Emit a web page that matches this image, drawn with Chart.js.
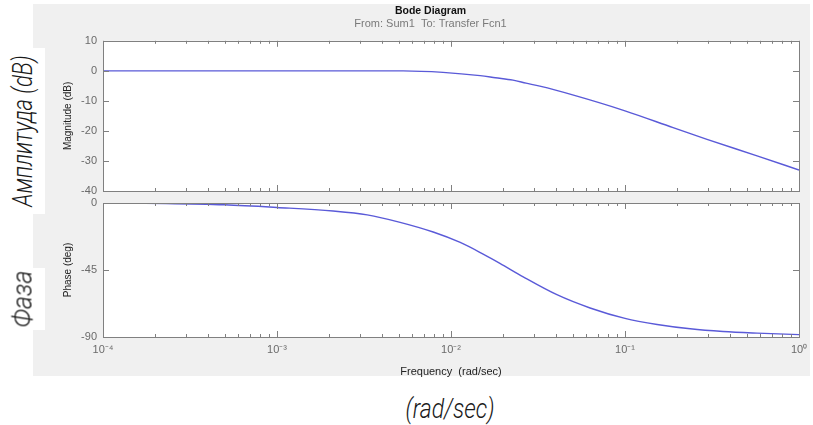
<!DOCTYPE html>
<html>
<head>
<meta charset="utf-8">
<script src="https://cdn.jsdelivr.net/npm/chart.js@4/dist/chart.umd.min.js"></script>
<style>
  body { margin: 0; width: 813px; height: 425px; overflow: hidden; position: relative; background: #fff; }
  #panel { position: absolute; left: 33px; top: 4px; width: 777px; height: 372px; background: #f0f0f0; }
  .wrap { position: absolute; }
  .patch { position: absolute; background: #fff; }
  .hand {
    position: absolute; white-space: nowrap; color: #1a1a1a;
    font-family: 'Roboto', sans-serif; font-weight: 300; font-style: italic;
  }
</style>
</head>
<body>
<div id="panel"></div>
<div class="wrap" style="left:33px; top:4px; width:777px; height:196px;"><canvas id="magChart" width="777" height="196"></canvas></div>
<div class="wrap" style="left:33px; top:195px; width:777px; height:185px;"><canvas id="phaseChart" width="777" height="185"></canvas></div>

<div class="patch" style="left:0; top:48px; width:45px; height:166px;"></div>
<div class="patch" style="left:0; top:268px; width:45px; height:62px;"></div>
<div class="hand" style="left:22px; top:131px; font-size:28px; transform: translate(-50%,-50%) rotate(-90deg) scaleX(0.78);">Амплитуда (dB)</div>
<div class="hand" style="left:22px; top:299px; font-size:28px; transform: translate(-50%,-50%) rotate(-90deg) scaleX(0.9);">Фаза</div>
<div class="hand" style="left:450px; top:408px; font-size:28px; transform: translate(-50%,-50%) scaleX(0.82);">(rad/sec)</div>

<script>
// Дані
const magFreq = [1e-4, 1e-3, 0.0053, 0.009, 0.0147, 0.018, 0.0227, 0.027, 0.0324, 0.05, 0.1, 0.189, 0.296, 0.574, 1];
const magDb = [0, 0, 0, -0.5, -1.6, -2.3, -3.1, -4.1, -5.1, -8.0, -13.3, -18.9, -22.8, -28.3, -33];

const phaseFreq = [1e-4, 2.3e-4, 5e-4, 1e-3, 0.0021, 0.0033, 0.0051, 0.0079, 0.0113, 0.0153, 0.0191, 0.026, 0.0406, 0.063, 0.1, 0.153, 0.237, 0.366, 0.574, 1];
const phaseDeg = [0, -0.3, -1.2, -3, -5.4, -8, -13, -19.5, -26.5, -34.3, -40.5, -49.6, -61.6, -70.5, -77.5, -81.6, -84.5, -86.3, -87.4, -88.4];

const magTicks = [10, 0, -10, -20, -30, -40];
const phaseTicks = [0, -45, -90];
const freqDecades = [1e-4, 1e-3, 1e-2, 1e-1, 1];
const decadeLabels = ['10⁻⁴', '10⁻³', '10⁻²', '10⁻¹', '10⁰'];

const FONT = "'Liberation Sans', Arial, sans-serif";
const LINE = '#5a5ad8';
const AXIS = '#808080';

// мінорні поділки лог-шкали: 1..9 у кожній декаді
function logTicks(scale) {
    const t = [];
    for (let i = 0; i < freqDecades.length - 1; i++) {
        for (let m = 1; m <= 9; m++) t.push({ value: m * freqDecades[i], major: m === 1 });
    }
    t.push({ value: freqDecades[freqDecades.length - 1], major: true });
    scale.ticks = t;
}

// білий фон області графіка, рамка і поділки всередину (як у MATLAB)
const matlabBox = {
    id: 'matlabBox',
    beforeDatasetsDraw(chart) {
        const { ctx, chartArea: a } = chart;
        ctx.save();
        ctx.fillStyle = '#fff';
        ctx.fillRect(a.left, a.top, a.width, a.height);
        ctx.restore();
    },
    afterDatasetsDraw(chart) {
        const { ctx, chartArea: a, scales } = chart;
        ctx.save();
        ctx.strokeStyle = AXIS;
        ctx.lineWidth = 1;
        ctx.strokeRect(Math.round(a.left) + 0.5, Math.round(a.top) + 0.5, Math.round(a.width), Math.round(a.height));
        ctx.beginPath();
        scales.y.ticks.forEach(t => {
            const py = Math.round(scales.y.getPixelForValue(t.value)) + 0.5;
            ctx.moveTo(a.left, py); ctx.lineTo(a.left + 6, py);
            ctx.moveTo(a.right, py); ctx.lineTo(a.right - 6, py);
        });
        scales.x.ticks.forEach(t => {
            const px = Math.round(scales.x.getPixelForValue(t.value)) + 0.5;
            const len = t.major ? 6 : 3;
            ctx.moveTo(px, a.top); ctx.lineTo(px, a.top + len);
            ctx.moveTo(px, a.bottom); ctx.lineTo(px, a.bottom - len);
        });
        ctx.stroke();
        ctx.restore();
    }
};

function yAxis(ticks, title) {
    return {
        min: ticks[ticks.length - 1],
        max: ticks[0],
        grid: { display: false, drawTicks: false },
        border: { display: false },
        afterBuildTicks: s => { s.ticks = ticks.map(v => ({ value: v })); },
        afterFit: s => { s.width = 41; s.paddingTop = 0; s.paddingBottom = 0; },
        ticks: { autoSkip: false, padding: 6, color: '#6a6a6a', font: { family: FONT, size: 11 } },
        title: { display: true, text: title, color: '#222', padding: { top: 0, bottom: 0 }, font: { family: FONT, size: 10 } }
    };
}

function lineSet(xs, ys) {
    return {
        data: xs.map((f, i) => ({ x: f, y: ys[i] })),
        borderColor: LINE,
        borderWidth: 1.4,
        pointRadius: 0,
        cubicInterpolationMode: 'monotone',
        fill: false
    };
}

new Chart(document.getElementById('magChart'), {
    type: 'line',
    data: { datasets: [lineSet(magFreq, magDb)] },
    plugins: [matlabBox],
    options: {
        responsive: false,
        animation: false,
        devicePixelRatio: 1,
        layout: { padding: { left: 29, right: 11, top: 0, bottom: 9 } },
        plugins: {
            legend: { display: false },
            tooltip: { enabled: false },
            title: { display: true, text: 'Bode Diagram', color: '#111', padding: { top: 1, bottom: 0 }, font: { family: FONT, size: 10.5, weight: 'bold' } },
            subtitle: { display: true, text: 'From: Sum1  To: Transfer Fcn1', color: '#7a7a7a', padding: { top: 0, bottom: 10 }, font: { family: FONT, size: 11 } }
        },
        scales: {
            x: {
                type: 'logarithmic', min: 1e-4, max: 1, display: false,
                afterBuildTicks: logTicks,
                ticks: { autoSkip: false }
            },
            y: yAxis(magTicks, 'Magnitude (dB)')
        }
    }
});

new Chart(document.getElementById('phaseChart'), {
    type: 'line',
    data: { datasets: [lineSet(phaseFreq, phaseDeg)] },
    plugins: [matlabBox],
    options: {
        responsive: false,
        animation: false,
        devicePixelRatio: 1,
        layout: { padding: { left: 29, right: 11, top: 8, bottom: 0 } },
        plugins: { legend: { display: false }, tooltip: { enabled: false } },
        scales: {
            x: {
                type: 'logarithmic',
                min: 1e-4,
                max: 1,
                grid: { display: false, drawTicks: false },
                border: { display: false },
                afterBuildTicks: logTicks,
                afterFit: s => { s.height = 43; s.paddingLeft = 0; s.paddingRight = 0; },
                ticks: {
                    autoSkip: false,
                    maxRotation: 0,
                    padding: 6,
                    color: '#6a6a6a',
                    font: { family: FONT, size: 11 },
                    callback: v => {
                        const i = freqDecades.findIndex(d => Math.abs(d - v) < d * 1e-6);
                        return i >= 0 ? decadeLabels[i] : '';
                    }
                },
                title: { display: true, text: 'Frequency  (rad/sec)', color: '#222', padding: { top: 0, bottom: 1 }, font: { family: FONT, size: 11 } }
            },
            y: yAxis(phaseTicks, 'Phase (deg)')
        }
    }
});
</script>
</body>
</html>
